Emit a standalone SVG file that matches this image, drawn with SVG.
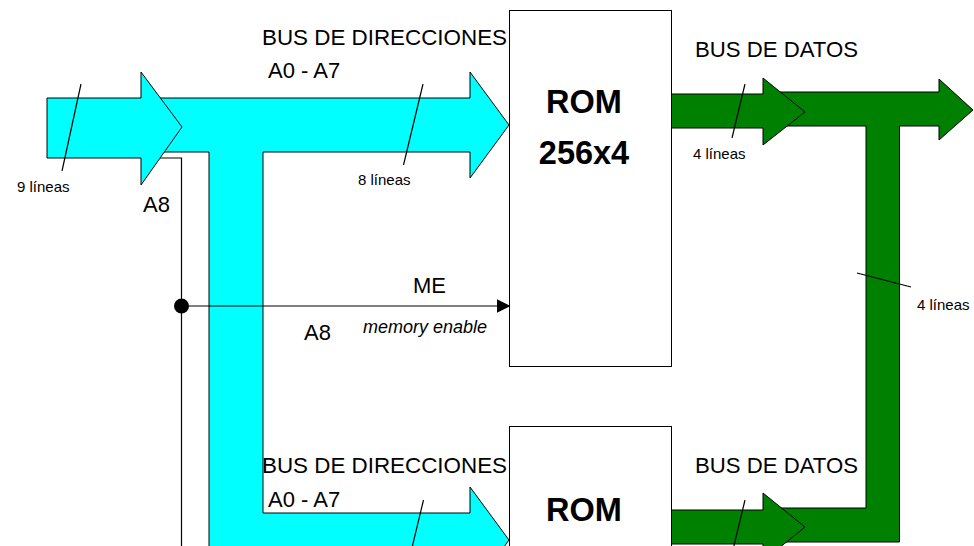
<svg xmlns="http://www.w3.org/2000/svg" width="974" height="546" viewBox="0 0 974 546">
<style>
.cy{fill:#00ffff;stroke:#000;stroke-width:1}
.gr{fill:#008000;stroke:#000;stroke-width:1}
.box{fill:#fff;stroke:#000;stroke-width:1}
.w{fill:none;stroke:#000;stroke-width:1.2}
.t{font-family:"Liberation Sans",Arial,sans-serif;fill:#000}
.lbl{font-size:22px}
.sm{font-size:15px}
.rom{font-size:32.5px;font-weight:bold;text-anchor:middle}
</style>
<defs>
<marker id="ah" markerWidth="14" markerHeight="14" refX="13" refY="7" orient="auto" markerUnits="userSpaceOnUse">
<path d="M0,0 L14,7 L0,14 Z" fill="#000"/>
</marker>
</defs>
<g id="rom1"><rect class="box" x="509.5" y="10.5" width="162" height="356"/>
<text class="t rom" x="584" y="113">ROM</text><text class="t rom" x="584" y="164">256x4</text></g>
<g id="rom2"><rect class="box" x="509.5" y="426.5" width="162" height="140"/>
<text class="t rom" x="584" y="521">ROM</text></g>
<g id="address-bus">
<path class="cy" d="M150,98 H470 V72 L509,125 L470,178 V152 H263 V513 H470 V487 L509,540 L470,593 V567 H209 V152 H150 Z"/>
</g>
<g id="connectors">
<polyline class="w" points="150,158 181.5,158 181.5,550"/>
<line class="w" x1="181.5" y1="306" x2="509.5" y2="306" marker-end="url(#ah)"/>
<circle cx="181.5" cy="306" r="7.5" fill="#000"/>
</g>
<g id="input-bus">
<path class="cy" d="M47,98 H141 V72 L182,127 L141,185 V158 H47 Z"/>
</g>
<g id="data-bus">
<path class="gr" d="M780,92 H939 V79 L973,110 L939,140 V126 H899.5 V542 H780 V508 H866 V126 H780 Z"/>
<path class="gr" d="M671.5,94 H763 V78 L805,112 L763,145 V128 H671.5 Z"/>
<path class="gr" d="M671.5,510 H763 V493 L805,527 L763,561 V544 H671.5 Z"/>
</g>
<g id="ticks" stroke="#000" stroke-width="1.2">
<line x1="81" y1="84" x2="62" y2="171"/>
<line x1="423" y1="84" x2="403.5" y2="165"/>
<line x1="745" y1="84" x2="732" y2="138"/>
<line x1="857" y1="273" x2="911" y2="287"/>
<line x1="423.5" y1="500" x2="404" y2="581"/>
<line x1="745" y1="500" x2="732" y2="554"/>
</g>
<g id="labels">
<text class="t lbl" x="262" y="45" textLength="245" lengthAdjust="spacingAndGlyphs">BUS DE DIRECCIONES</text>
<text class="t lbl" x="268" y="78">A0 - A7</text>
<text class="t lbl" x="695" y="57" textLength="163" lengthAdjust="spacingAndGlyphs">BUS DE DATOS</text>
<text class="t lbl" x="262" y="473" textLength="245" lengthAdjust="spacingAndGlyphs">BUS DE DIRECCIONES</text>
<text class="t lbl" x="268" y="507">A0 - A7</text>
<text class="t lbl" x="695" y="473" textLength="163" lengthAdjust="spacingAndGlyphs">BUS DE DATOS</text>
<text class="t lbl" x="143" y="212">A8</text>
<text class="t lbl" x="413" y="293">ME</text>
<text class="t lbl" x="304" y="340">A8</text>
<text class="t" x="363" y="333" font-size="18" font-style="italic">memory enable</text>
<text class="t sm" x="17" y="192">9 líneas</text>
<text class="t sm" x="358" y="185">8 líneas</text>
<text class="t sm" x="693" y="159">4 líneas</text>
<text class="t sm" x="917" y="310">4 líneas</text>
</g>
</svg>
